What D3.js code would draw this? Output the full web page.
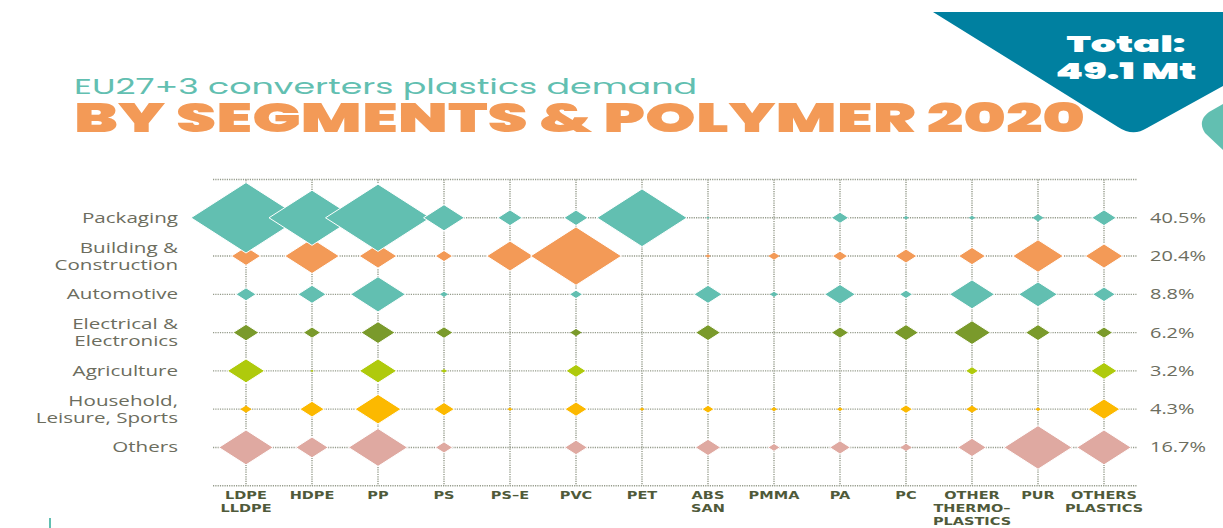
<!DOCTYPE html>
<html>
<head>
<meta charset="utf-8">
<script src="https://cdn.jsdelivr.net/npm/d3@7"></script>
<style>
  html, body { margin: 0; padding: 0; background: #ffffff; }
  svg { display: block; }
</style>
</head>
<body>
<svg id="chart" width="1223" height="528"></svg>
<script>
// Polymers (columns) and their label lines
const polymers = ["LDPE", "HDPE", "PP", "PS", "PS-E", "PVC", "PET", "ABS", "PMMA", "PA", "PC", "OTHER_TP", "PUR", "OTHERS"];
const polymerLabels = [
  ["LDPE", "LLDPE"], ["HDPE"], ["PP"], ["PS"], ["PS–E"], ["PVC"], ["PET"],
  ["ABS", "SAN"], ["PMMA"], ["PA"], ["PC"], ["OTHER", "THERMO–", "PLASTICS"], ["PUR"], ["OTHERS", "PLASTICS"]
];

// Segments (rows), label lines and share of total demand
const segments = ["Packaging", "Building", "Automotive", "Electrical", "Agriculture", "Household", "Others"];
const segmentLabels = [
  ["Packaging"], ["Building &", "Construction"], ["Automotive"], ["Electrical &", "Electronics"],
  ["Agriculture"], ["Household,", "Leisure, Sports"], ["Others"]
];
const segmentShares = ["40.5%", "20.4%", "8.8%", "6.2%", "3.2%", "4.3%", "16.7%"];

// Demand in Mt per polymer, one array per segment (column order as in `polymers`)
const packaging   = [5.66, 3.46, 5.15, 0.78, 0.28, 0.27, 3.79, 0.005, 0, 0.14, 0.015, 0.02, 0.06, 0.28];
const building    = [0.40, 1.39, 0.66, 0.14, 1.02, 3.87, 0, 0.013, 0.06, 0.11, 0.22, 0.34, 1.20, 0.66];
const automotive  = [0.19, 0.37, 1.41, 0.03, 0, 0.08, 0, 0.37, 0.03, 0.44, 0.08, 0.95, 0.70, 0.24];
const electrical  = [0.31, 0.14, 0.54, 0.15, 0, 0.06, 0, 0.29, 0, 0.14, 0.29, 0.64, 0.29, 0.14];
const agriculture = [0.65, 0.005, 0.65, 0.017, 0, 0.19, 0, 0, 0, 0, 0, 0.08, 0, 0.32];
const household   = [0.06, 0.28, 0.99, 0.20, 0.012, 0.23, 0.012, 0.07, 0.02, 0.017, 0.08, 0.06, 0.014, 0.47];
const others      = [1.38, 0.49, 1.63, 0.14, 0, 0.24, 0, 0.30, 0.07, 0.20, 0.06, 0.38, 2.16, 1.38];
const segmentValues = [packaging, building, automotive, electrical, agriculture, household, others];

const segmentColors = ["#62bfb1", "#f39a57", "#62bfb1", "#7a9a2b", "#afca0c", "#fcb900", "#dfa9a1"];

const totalLines = ["Total:", "49.1 Mt"];
const subtitle = "EU27+3 converters plastics demand";
const title = "BY SEGMENTS & POLYMER 2020";

const svg = d3.select("#chart");

// ---- header ----
svg.append("path")
  .attr("d", "M933,12 H1223 V86 L1147,128 Q1133,137 1118,127 Z")
  .attr("fill", "#0080a0");
svg.append("path")
  .attr("d", "M1223,104 L1209,112 Q1197,121 1205,133 L1223,150 Z")
  .attr("fill", "#62bfb1");

const headFont = "Poppins, Lato, 'Open Sans', sans-serif";
svg.append("text")
  .attr("x", 1126).attr("y", 52)
  .attr("text-anchor", "middle")
  .attr("font-family", headFont).attr("font-weight", 900).attr("font-size", 23)
  .attr("fill", "#ffffff")
  .attr("textLength", 119).attr("lengthAdjust", "spacingAndGlyphs")
  .text(totalLines[0]);
svg.append("text")
  .attr("x", 1126).attr("y", 79)
  .attr("text-anchor", "middle")
  .attr("font-family", headFont).attr("font-weight", 900).attr("font-size", 23)
  .attr("fill", "#ffffff")
  .attr("textLength", 141).attr("lengthAdjust", "spacingAndGlyphs")
  .text(totalLines[1]);

svg.append("text")
  .attr("x", 74).attr("y", 94)
  .attr("font-family", headFont).attr("font-weight", 400).attr("font-size", 22)
  .attr("fill", "#62bfb1")
  .attr("textLength", 623).attr("lengthAdjust", "spacingAndGlyphs")
  .text(subtitle);
svg.append("text")
  .attr("x", 74).attr("y", 131.5)
  .attr("font-family", headFont).attr("font-weight", 900).attr("font-size", 40)
  .attr("fill", "#f39a57")
  .attr("textLength", 1011).attr("lengthAdjust", "spacingAndGlyphs")
  .text(title);

// small accent at the lower left
svg.append("rect").attr("x", 49).attr("y", 518).attr("width", 2).attr("height", 10).attr("fill", "#62bfb1");

// ---- scales ----
const x = d3.scalePoint().domain(polymers).range([213, 1137]).padding(0.5);
const y = d3.scalePoint().domain(segments).range([179.5, 485.7]).padding(1);
const size = d3.scaleSqrt().domain([0, 6]).range([0, 23.12 * Math.sqrt(6)]);
const aspect = 1.56; // diamonds are wider than tall

const yTop = 179.5, yBottom = 485.7, xLeft = 213, xRight = 1137;

// ---- dotted grid ----
const grid = svg.append("g")
  .attr("stroke", "#959b8b").attr("stroke-width", 1.4).attr("stroke-dasharray", "1.2,1.1");
const hLines = [yTop, ...segments.map(s => y(s)), yBottom];
grid.selectAll("line.h").data(hLines).join("line")
  .attr("class", "h")
  .attr("x1", xLeft).attr("x2", xRight)
  .attr("y1", d => d).attr("y2", d => d);
grid.selectAll("line.v").data(polymers).join("line")
  .attr("class", "v")
  .attr("x1", d => x(d)).attr("x2", d => x(d))
  .attr("y1", yTop).attr("y2", yBottom);

// ---- diamonds (bottom rows first, so upper rows overlap them) ----
const cells = [];
for (let r = segments.length - 1; r >= 0; r--) {
  segmentValues[r].forEach((v, c) => {
    if (v > 0) cells.push({ seg: segments[r], pol: polymers[c], v, color: segmentColors[r] });
  });
}
svg.append("g").selectAll("path").data(cells).join("path")
  .attr("d", d => {
    const cx = x(d.pol), cy = y(d.seg);
    const hw = size(d.v), hh = hw / aspect;
    return `M${cx - hw},${cy} L${cx},${cy - hh} L${cx + hw},${cy} L${cx},${cy + hh} Z`;
  })
  .attr("fill", d => d.color)
  .attr("stroke", "#ffffff")
  .attr("stroke-width", d => size(d.v) > 6 ? 1 : 0);

// ---- row labels ----
const labelFont = "'Open Sans', Lato, sans-serif";
const labelColor = "#6c6d5e";
const rowG = svg.append("g").selectAll("g").data(segments).join("g")
  .attr("transform", d => `translate(178,${y(d)}) scale(1.42,1)`);
rowG.each(function (d, i) {
  const lines = segmentLabels[i];
  const g = d3.select(this);
  const base = lines.length === 1 ? [5] : [-3.3, 13.8];
  lines.forEach((t, k) => {
    g.append("text")
      .attr("x", 0).attr("y", base[k])
      .attr("text-anchor", "end")
      .attr("font-family", labelFont).attr("font-size", 14.5)
      .attr("fill", labelColor)
      .text(t);
  });
});

// ---- share labels ----
svg.append("g").selectAll("g").data(segments).join("g")
  .attr("transform", d => `translate(1150,${y(d) + 5}) scale(1.33,1)`)
  .append("text")
  .attr("font-family", labelFont).attr("font-size", 15)
  .attr("fill", labelColor)
  .text((d, i) => segmentShares[i]);

// ---- polymer labels ----
const colG = svg.append("g").selectAll("g").data(polymers).join("g")
  .attr("transform", d => `translate(${x(d)},499.3) scale(1.32,1)`);
colG.each(function (d, i) {
  const g = d3.select(this);
  polymerLabels[i].forEach((t, k) => {
    g.append("text")
      .attr("x", 0).attr("y", k * 13)
      .attr("text-anchor", "middle")
      .attr("font-family", "'DejaVu Sans', sans-serif").attr("font-weight", 700).attr("font-size", 11)
      .attr("fill", "#4f5a3a")
      .text(t);
  });
});
</script>
</body>
</html>
